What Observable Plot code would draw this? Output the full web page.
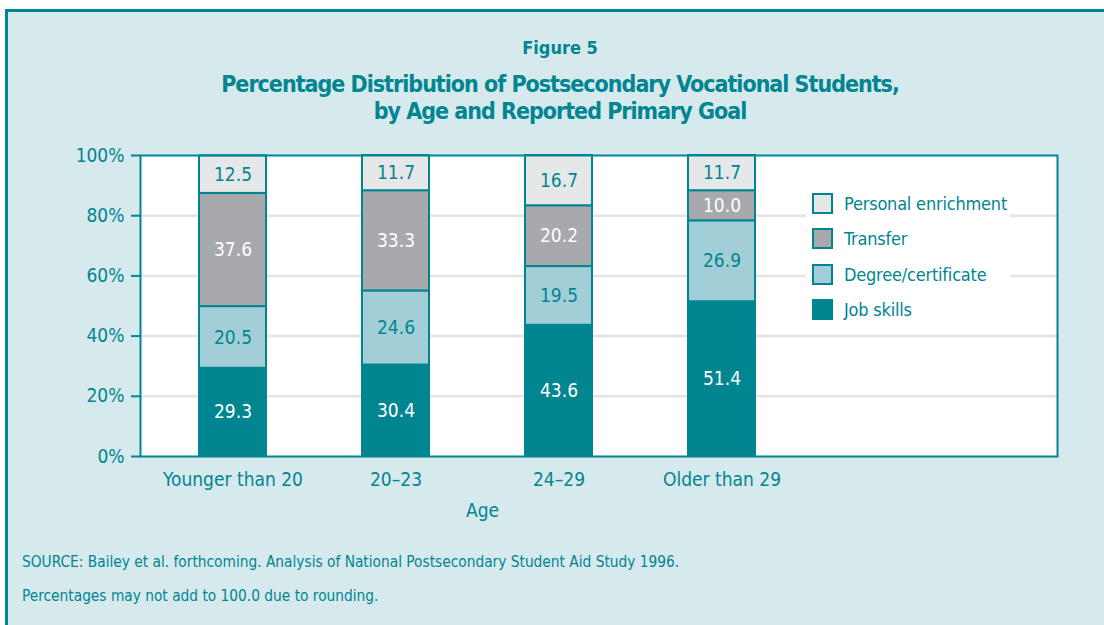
<!DOCTYPE html>
<html>
<head>
<meta charset="utf-8">
<script src="https://cdn.jsdelivr.net/npm/d3@7"></script>
<script src="https://cdn.jsdelivr.net/npm/@observablehq/plot@0.6"></script>
<style>
  html, body { margin: 0; padding: 0; background: #ffffff; }
  body { width: 1104px; height: 625px; position: relative; overflow: hidden;
         font-family: "DejaVu Sans Condensed", "DejaVu Sans", sans-serif; font-stretch: condensed; color: #008591; }
  #panel { position: absolute; left: 5px; top: 9px; width: 1130px; height: 660px;
           background: #d6e9ed; border: 3px solid #008591; box-sizing: border-box; }
  .abs { position: absolute; white-space: nowrap; }
  .title { font-weight: bold; text-align: center; left: 0; width: 1120px; }
  #chart { position: absolute; left: 0; top: 130px; }
  #legend { position: absolute; left: 806px; top: 188px; width: 204px; height: 134px; background: #fff; }
  .row { position: absolute; left: 6px; height: 24px; display: flex; align-items: center; font-size: 18px; letter-spacing: -0.2px; white-space: nowrap; }
  .sw { width: 17px; height: 17px; border: 2px solid #008591; margin-right: 11px; flex: none; }
  .foot { font-size: 15.3px; left: 22px; }
</style>
</head>
<body>
<div id="panel"></div>
<div class="abs title" style="top:37px; font-size:18px;">Figure 5</div>
<div class="abs title" style="top:71px; font-size:23px; letter-spacing:-1px;">Percentage Distribution of Postsecondary Vocational Students,</div>
<div class="abs title" style="top:98px; font-size:23px; letter-spacing:-1px;">by Age and Reported Primary Goal</div>
<div id="chart"></div>
<div id="legend"></div>
<div class="abs" style="top:499px; left:466px; font-size:19px;">Age</div>
<div class="abs foot" style="top:553px;">SOURCE: Bailey et al. forthcoming. Analysis of National Postsecondary Student Aid Study 1996.</div>
<div class="abs foot" style="top:587px;">Percentages may not add to 100.0 due to rounding.</div>
<script>
// ---- data ----
const ages = ["Younger than 20", "20–23", "24–29", "Older than 29"];
const goals = ["Job skills", "Degree/certificate", "Transfer", "Personal enrichment"];
const jobSkills = [29.3, 30.4, 43.6, 51.4];
const degreeCertificate = [20.5, 24.6, 19.5, 26.9];
const transfer = [37.6, 33.3, 20.2, 10.0];
const personalEnrichment = [12.5, 11.7, 16.7, 11.7];
const yTicks = [0, 20, 40, 60, 80, 100];
const gridTicks = [20, 40, 60, 80];
const legendOrder = ["Personal enrichment", "Transfer", "Degree/certificate", "Job skills"];

// ---- styles ----
const teal = "#008591";
const goalColors = ["#008591", "#a2cfd7", "#a7a9ac", "#e6e7e8"];
const whiteLabelGoals = ["Job skills", "Transfer"];

const seriesValues = [jobSkills, degreeCertificate, transfer, personalEnrichment];
const table = [];
goals.forEach((g, gi) => ages.forEach((a, ai) => table.push({age: a, goal: g, value: seriesValues[gi][ai]})));

const fontStack = "'DejaVu Sans Condensed', 'DejaVu Sans', sans-serif";
const chart = Plot.plot({
  width: 1104,
  height: 410,
  marginLeft: 140,
  marginRight: 47,
  marginTop: 25,
  marginBottom: 84,
  style: {fontFamily: fontStack, fontStretch: "condensed", background: "transparent", color: teal},
  x: {type: "band", domain: ages, range: [140, 813.6], paddingInner: 0.59, paddingOuter: 0.355},
  y: {domain: [0, 100]},
  color: {domain: goals, range: goalColors},
  marks: [
    Plot.frame({fill: "white", stroke: null}),
    Plot.gridY(gridTicks, {stroke: "#e3e4e5", strokeOpacity: 1, strokeWidth: 2.5}),
    Plot.barY(table, {x: "age", y: "value", fill: "goal", stroke: teal, strokeWidth: 2}),
    Plot.text(table, Plot.stackY({x: "age", y: "value", z: "goal",
      text: d => whiteLabelGoals.includes(d.goal) ? d.value.toFixed(1) : "", fill: "white", fontSize: 19})),
    Plot.text(table, Plot.stackY({x: "age", y: "value", z: "goal",
      text: d => whiteLabelGoals.includes(d.goal) ? "" : d.value.toFixed(1), fill: teal, fontSize: 19})),
    Plot.frame({stroke: teal, strokeWidth: 2}),
    Plot.axisY({ticks: yTicks, tickFormat: d => d + "%", tickSize: 9, tickPadding: 7, fontSize: 19, color: teal, strokeWidth: 2, label: null}),
    Plot.axisX({tickSize: 0, tickPadding: 16, fontSize: 19, color: teal, label: null})
  ]
});
document.getElementById("chart").appendChild(chart);

// legend
const legend = document.getElementById("legend");
legendOrder.forEach((g, i) => {
  const row = document.createElement("div");
  row.className = "row";
  row.style.top = (3 + i * 35.5) + "px";
  const sw = document.createElement("div");
  sw.className = "sw";
  sw.style.background = goalColors[goals.indexOf(g)];
  const t = document.createElement("span");
  t.textContent = g;
  row.appendChild(sw); row.appendChild(t);
  legend.appendChild(row);
});
</script>
</body>
</html>
